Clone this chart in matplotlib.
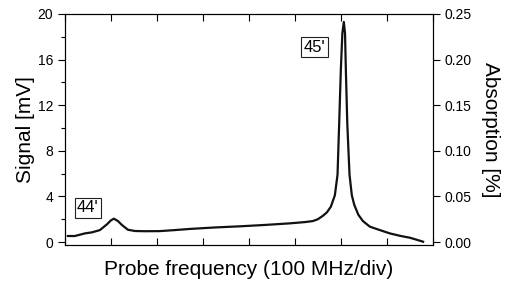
import numpy as np
import matplotlib
matplotlib.use("Agg")
import matplotlib.pyplot as plt
from matplotlib.ticker import MultipleLocator, FormatStrFormatter

plt.rcParams['font.family'] = ['Liberation Sans', 'DejaVu Sans']

# probe frequency in divisions (100 MHz/div), signal in mV
freq_div = [0.065, 0.217, 0.435, 0.587, 0.761, 0.913, 1.000, 1.065, 1.152,
            1.239, 1.370, 1.522, 1.739, 2.065, 2.391, 2.717, 3.261, 3.804,
            4.348, 4.891, 5.217, 5.391, 5.500, 5.609, 5.696, 5.783, 5.870,
            5.928, 5.963, 6.000, 6.033, 6.065, 6.091, 6.109, 6.141, 6.189,
            6.239, 6.293, 6.380, 6.478, 6.630, 6.848, 7.065, 7.283, 7.500,
            7.652, 7.789]
signal_mv = [0.53, 0.53, 0.76, 0.85, 1.05, 1.55, 1.90, 2.05, 1.85,
             1.50, 1.08, 0.97, 0.95, 0.96, 1.05, 1.15, 1.28, 1.38,
             1.50, 1.64, 1.75, 1.84, 2.00, 2.30, 2.60, 3.10, 4.10,
             5.90, 10.3, 15.1, 18.3, 19.3, 18.3, 15.1, 10.3, 5.90,
             4.10, 3.25, 2.40, 1.85, 1.35, 1.05, 0.76, 0.55, 0.38,
             0.20, 0.03]

peak_labels = ["44'", "45'"]
label_x = [0.5, 5.43]
label_y = [3.0, 17.1]

fig = plt.figure(figsize=(5.11, 2.91), dpi=100)
ax = fig.add_axes([0.127, 0.158, 0.72, 0.794])

ax.plot(freq_div, signal_mv, color='#111111', lw=1.6)

ax.set_xlim(0, 8)
ax.set_ylim(-0.26, 20)
ax.xaxis.set_major_locator(MultipleLocator(1))
ax.yaxis.set_major_locator(MultipleLocator(4))
ax.yaxis.set_minor_locator(MultipleLocator(2))
ax.tick_params(axis='x', which='both', direction='in', top=True,
               labelbottom=False, length=5, width=0.8)
ax.tick_params(axis='y', which='major', direction='out', length=5,
               width=0.8, labelsize=10)
ax.tick_params(axis='y', which='minor', direction='out', length=3,
               width=0.8)
for sp in ax.spines.values():
    sp.set_linewidth(0.8)

ax.set_ylabel('Signal [mV]', fontsize=15, labelpad=2)
ax.set_xlabel('Probe frequency (100 MHz/div)', fontsize=15, labelpad=11)

for txt, x, y in zip(peak_labels, label_x, label_y):
    ax.text(x, y, txt, fontsize=12, ha='center', va='center',
            bbox=dict(boxstyle='square,pad=0.15', fc='white', ec='#222222',
                      lw=0.8))

ax2 = ax.twinx()
ax2.set_ylim(-0.26 / 80, 0.25)
ax2.yaxis.set_major_locator(MultipleLocator(0.05))
ax2.yaxis.set_major_formatter(FormatStrFormatter('%.2f'))
ax2.tick_params(axis='y', direction='out', length=5, width=0.8,
                labelsize=10)
ax2.set_ylabel('Absorption [%]', fontsize=15, rotation=270, labelpad=20)

fig.savefig('out.png', dpi=100)
